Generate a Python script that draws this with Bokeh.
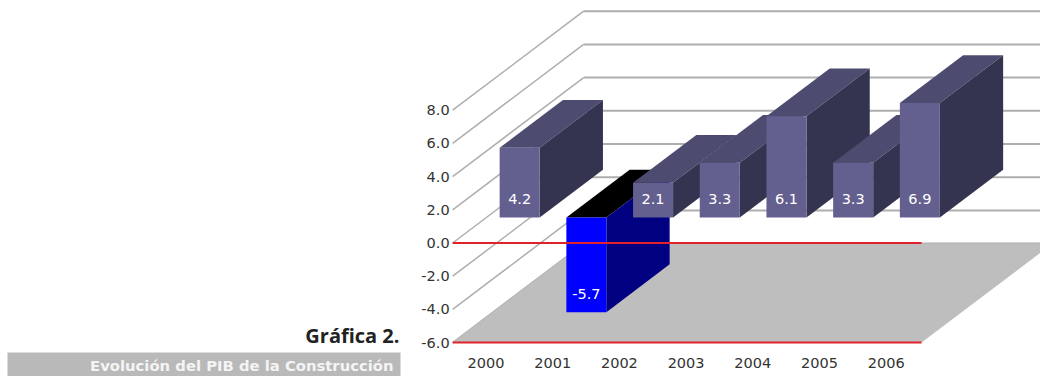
from bokeh.plotting import figure
from bokeh.models import Range1d, LinearAxis, FixedTicker
from bokeh.core.properties import value
from bokeh.embed import file_html
from bokeh.resources import INLINE

years = ["2000", "2001", "2002", "2003", "2004", "2005", "2006"]
pib = [4.2, -5.7, 2.1, 3.3, 6.1, 3.3, 6.9]
y_ticks = [-6, -4, -2, 0, 2, 4, 6, 8]

W, H = 1040, 376
PX_PER_CAT = 66.7
PX_PER_UNIT = 16.6
X0_PX = 485.5
Y0_PX = 242.5

# Oblique projection of the box: how far one full depth shifts a point, in data units.
DEPTH_X = 131 / PX_PER_CAT
DEPTH_Y = 99 / PX_PER_UNIT
BAR_NEAR, BAR_FAR = 0.257, 0.74
BAR_HALF = 0.3
FLOOR = min(y_ticks)
CEIL = max(y_ticks)


def px_x(px):
    return (px - X0_PX) / PX_PER_CAT


def px_y(py):
    return (Y0_PX - py) / PX_PER_UNIT


p = figure(
    width=W, height=H, output_backend="svg", toolbar_location=None,
    x_range=Range1d(px_x(0), px_x(W)), y_range=Range1d(px_y(H), px_y(0)),
    x_axis_type=None, y_axis_type=None, min_border=0,
    outline_line_color=None, background_fill_color="white",
)
p.grid.visible = False

left = -0.5
right = len(years) - 0.47
GRID = "#aeaeae"

# Back and side walls
for t in y_ticks:
    p.line([left + DEPTH_X, right + DEPTH_X + 1], [t + DEPTH_Y, t + DEPTH_Y],
           line_color=GRID, line_width=2)
    p.line([left, left + DEPTH_X], [t, t + DEPTH_Y], line_color=GRID, line_width=1.5)

# Floor
p.patch([left, right, right + DEPTH_X, left + DEPTH_X],
        [FLOOR, FLOOR, FLOOR + DEPTH_Y, FLOOR + DEPTH_Y], fill_color="#bebebe", line_color=None)

POS = ("#63608f", "#4d4c70", "#353450")
NEG = ("#0000ff", "#000000", "#000080")

# Bars, painted left to right so each one overlaps its neighbour
label_x, label_y, label_text = [], [], []
for i, v in enumerate(pib):
    front, top, side = POS if v >= 0 else NEG
    sx, sy = BAR_NEAR * DEPTH_X, BAR_NEAR * DEPTH_Y
    fx, fy = BAR_FAR * DEPTH_X, BAR_FAR * DEPTH_Y
    x1, x2 = i - BAR_HALF + sx, i + BAR_HALF + sx
    hi, lo = max(v, 0), min(v, 0)
    p.patch([x1, x2, x2 - sx + fx, x1 - sx + fx],
            [hi + sy, hi + sy, hi + fy, hi + fy], fill_color=top, line_color=None)
    p.patch([x2, x2 - sx + fx, x2 - sx + fx, x2],
            [hi + sy, hi + fy, lo + fy, lo + sy], fill_color=side, line_color=None)
    p.patch([x1, x2, x2, x1], [lo + sy, lo + sy, hi + sy, hi + sy],
            fill_color=front, line_color=None)
    label_x.append((x1 + x2) / 2)
    label_y.append(lo + sy + 1.09)
    label_text.append(f"{v}")

p.text(label_x, label_y, text=label_text, text_color="white", text_font=value("DejaVu Sans"),
       text_font_size="14.5px", text_align="center", text_baseline="middle")

# Reference lines at zero and at the floor
for level in (0, FLOOR):
    p.line([left, right], [level, level], line_color="#e0232b", line_width=2)

# Axes sit inside the frame, next to the box
yaxis = LinearAxis(
    fixed_location=left - 0.03, ticker=FixedTicker(ticks=y_ticks),
    major_label_overrides={t: f"{t:.1f}" for t in y_ticks},
    axis_line_color=None, major_tick_line_color=None, minor_tick_line_color=None,
    major_tick_out=0, major_tick_in=0,
    major_label_text_font="DejaVu Sans", major_label_text_font_size="14.5px",
    major_label_text_color="#333333", major_label_standoff=1,
)
p.add_layout(yaxis, "left")

xaxis = LinearAxis(
    fixed_location=FLOOR - 0.85, ticker=FixedTicker(ticks=list(range(len(years)))),
    major_label_overrides={i: y for i, y in enumerate(years)},
    axis_line_color=None, major_tick_line_color=None, minor_tick_line_color=None,
    major_tick_out=0, major_tick_in=0,
    major_label_text_font="DejaVu Sans", major_label_text_font_size="14.5px",
    major_label_text_color="#333333", major_label_standoff=1,
)
p.add_layout(xaxis, "below")

# Caption block
p.quad(left=[px_x(7)], right=[px_x(400)], top=[px_y(352)], bottom=[px_y(H)],
       fill_color="#b9b9b9", line_color=None)
p.text([px_x(399)], [px_y(335)], text=["Gráfica 2."], text_color="#222222",
       text_font=value("Open Sans"), text_font_size="20px", text_font_style="bold",
       text_align="right", text_baseline="middle")
p.text([px_x(393)], [px_y(364.5)], text=["Evolución del PIB de la Construcción"], text_color="#f4f4f4",
       text_font=value("DejaVu Sans"), text_font_size="14.8px", text_font_style="bold",
       text_align="right", text_baseline="middle")

open("out.html", "w").write(file_html(p, INLINE))
